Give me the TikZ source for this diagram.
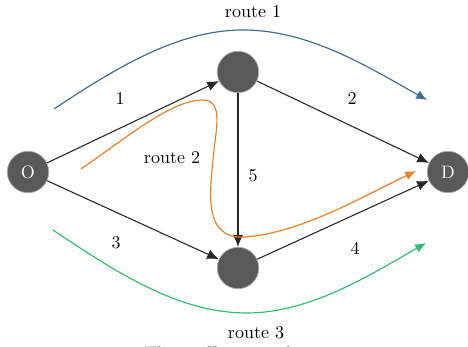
\documentclass[tikz,border=0pt]{standalone}
\usetikzlibrary{arrows.meta}
\definecolor{nodegray}{HTML}{595959}
\definecolor{routeblue}{HTML}{3F6A9A}
\definecolor{routeorange}{HTML}{EE7F22}
\definecolor{routegreen}{HTML}{2FBF6A}
\tikzset{
  vertex/.style={circle, fill=nodegray, draw=gray!70, line width=0.4pt,
    minimum size=23pt, inner sep=0pt, text=white},
  link/.style={-{Latex[length=6.5pt,width=5.5pt]}, line width=0.6pt, black!85},
  routeline/.style={-{Latex[length=6pt,width=5pt]}, line width=0.65pt},
  lbl/.style={font=\normalsize}
}
\begin{document}
\begin{tikzpicture}[x=0.5556pt, y=-0.5556pt]
\useasboundingbox (0,0) rectangle (468,347);

% vertices
\node[vertex] (O) at (28,172) {O};
\node[vertex] (D) at (448,172) {D};
\node[vertex] (A) at (238,72) {};
\node[vertex] (B) at (238,268) {};

% network links
\draw[link] (O) -- (A);
\draw[link] (A) -- (D);
\draw[link] (O) -- (B);
\draw[link] (B) -- (D);
\draw[link] (A) -- (B);

% link labels
\node[lbl] (l1) at (120,99) {1};
\node[lbl] (l2) at (352,99) {2};
\node[lbl] (l3) at (116,243) {3};
\node[lbl] (l4) at (355,248) {4};
\node[lbl] (l5) at (253,176) {5};

% routes
\coordinate (r1s) at (54,109);
\coordinate (r1e) at (427,100);
\draw[routeline, routeblue] (r1s) .. controls (120,65) and (180,30) .. (243,30)
  .. controls (310,30) and (370,68) .. (r1e);
\node[lbl] (rt1) at (253,12) {route 1};

\coordinate (r3s) at (53,230);
\coordinate (r3e) at (426,243);
\draw[routeline, routegreen] (r3s) .. controls (120,275) and (180,313) .. (247,313)
  .. controls (310,313) and (370,275) .. (r3e);
\node[lbl] (rt3) at (256,333) {route 3};

\coordinate (r2s) at (81,169);
\coordinate (r2e) at (416,171);
\draw[routeline, routeorange] (r2s) .. controls (130,135) and (172,100) .. (203,100)
  .. controls (222,100) and (217,125) .. (214,150)
  .. controls (211,185) and (200,240) .. (245,237)
  .. controls (300,233) and (360,198) .. (r2e);
\node[lbl] (rt2) at (172,158) {route 2};

% caption, mostly below the lower edge
\node[lbl] (cap) at (220,353) {The traffic network};
\end{tikzpicture}
\end{document}
